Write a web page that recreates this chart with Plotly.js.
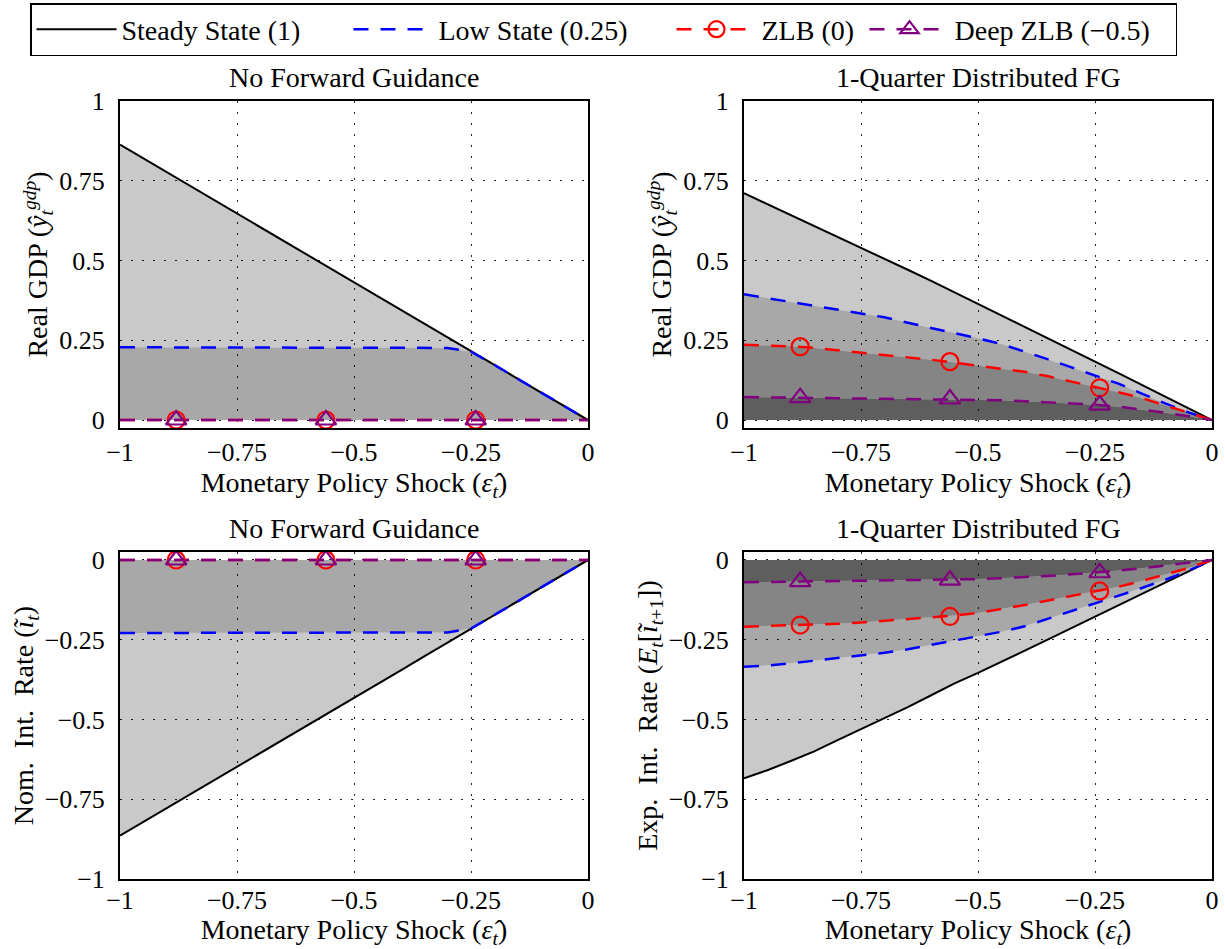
<!DOCTYPE html>
<html>
<head>
<meta charset="utf-8">
<script src="https://cdn.plot.ly/plotly-3.0.1.min.js"></script>
<style>html,body{margin:0;padding:0;background:#fff;}#chart{width:1225px;height:949px;}</style>
</head>
<body>
<div id="chart"></div>
<script>
// ---------- data ----------
const shock = [-1, -0.95, -0.9, -0.85, -0.8, -0.75, -0.7, -0.65, -0.6, -0.55, -0.5, -0.45, -0.4, -0.35, -0.3, -0.25, -0.2, -0.15, -0.1, -0.05, 0];
const markerShock = [-0.88, -0.56, -0.24];

// Real GDP, no forward guidance
const gdpNoFG_steady = [0.863, 0.820, 0.777, 0.734, 0.690, 0.647, 0.604, 0.561, 0.518, 0.475, 0.432, 0.388, 0.345, 0.302, 0.259, 0.216, 0.173, 0.129, 0.086, 0.043, 0];
const gdpNoFG_low    = [0.228, 0.228, 0.228, 0.228, 0.228, 0.228, 0.228, 0.228, 0.228, 0.228, 0.228, 0.228, 0.228, 0.228, 0.226, 0.214, 0.173, 0.129, 0.086, 0.043, 0];
const gdpNoFG_zlb    = [0, 0, 0, 0, 0, 0, 0, 0, 0, 0, 0, 0, 0, 0, 0, 0, 0, 0, 0, 0, 0];
const gdpNoFG_deep   = [0, 0, 0, 0, 0, 0, 0, 0, 0, 0, 0, 0, 0, 0, 0, 0, 0, 0, 0, 0, 0];
const gdpNoFG_zlbMarks  = [0, 0, 0];
const gdpNoFG_deepMarks = [0, 0, 0];

// Real GDP, 1-quarter distributed FG
const gdpFG_steady = [0.711, 0.677, 0.643, 0.609, 0.575, 0.541, 0.506, 0.471, 0.436, 0.400, 0.365, 0.329, 0.293, 0.256, 0.220, 0.184, 0.147, 0.110, 0.074, 0.037, 0];
const gdpFG_low    = [0.394, 0.382, 0.370, 0.358, 0.346, 0.336, 0.322, 0.305, 0.289, 0.273, 0.256, 0.238, 0.215, 0.190, 0.165, 0.140, 0.114, 0.083, 0.052, 0.024, 0];
const gdpFG_zlb    = [0.236, 0.234, 0.231, 0.226, 0.219, 0.212, 0.205, 0.197, 0.189, 0.180, 0.170, 0.161, 0.151, 0.137, 0.121, 0.104, 0.087, 0.069, 0.046, 0.024, 0];
const gdpFG_deep   = [0.072, 0.071, 0.070, 0.070, 0.069, 0.068, 0.067, 0.067, 0.066, 0.065, 0.064, 0.062, 0.059, 0.056, 0.052, 0.048, 0.042, 0.033, 0.023, 0.012, 0];
const gdpFG_zlbMarks  = [0.230, 0.183, 0.101];
const gdpFG_deepMarks = [0.070, 0.066, 0.047];

// Nominal interest rate, no forward guidance
const rateNoFG_steady = [-0.864, -0.821, -0.778, -0.734, -0.691, -0.648, -0.605, -0.562, -0.518, -0.475, -0.432, -0.389, -0.346, -0.302, -0.259, -0.216, -0.173, -0.130, -0.086, -0.043, 0];
const rateNoFG_low    = [-0.229, -0.229, -0.229, -0.229, -0.229, -0.229, -0.229, -0.229, -0.229, -0.229, -0.229, -0.229, -0.229, -0.229, -0.227, -0.215, -0.173, -0.130, -0.086, -0.043, 0];
const rateNoFG_zlb    = [0, 0, 0, 0, 0, 0, 0, 0, 0, 0, 0, 0, 0, 0, 0, 0, 0, 0, 0, 0, 0];
const rateNoFG_deep   = [0, 0, 0, 0, 0, 0, 0, 0, 0, 0, 0, 0, 0, 0, 0, 0, 0, 0, 0, 0, 0];
const rateNoFG_zlbMarks  = [0, 0, 0];
const rateNoFG_deepMarks = [0, 0, 0];

// Expected interest rate, 1-quarter distributed FG
const rateFG_steady = [-0.684, -0.659, -0.630, -0.600, -0.565, -0.530, -0.497, -0.461, -0.424, -0.387, -0.354, -0.320, -0.284, -0.249, -0.213, -0.178, -0.142, -0.107, -0.071, -0.036, 0];
const rateFG_low    = [-0.335, -0.331, -0.324, -0.316, -0.308, -0.301, -0.291, -0.280, -0.266, -0.251, -0.239, -0.225, -0.208, -0.184, -0.159, -0.136, -0.113, -0.088, -0.062, -0.034, 0];
const rateFG_zlb    = [-0.209, -0.207, -0.205, -0.203, -0.200, -0.196, -0.191, -0.185, -0.180, -0.174, -0.166, -0.154, -0.141, -0.127, -0.113, -0.099, -0.084, -0.066, -0.046, -0.025, 0];
const rateFG_deep   = [-0.070, -0.069, -0.068, -0.068, -0.067, -0.066, -0.065, -0.064, -0.063, -0.062, -0.060, -0.057, -0.054, -0.050, -0.045, -0.040, -0.033, -0.026, -0.018, -0.009, 0];
const rateFG_zlbMarks  = [-0.204, -0.177, -0.097];
const rateFG_deepMarks = [-0.068, -0.063, -0.040];

const seriesNames = ['Steady State (1)', 'Low State (0.25)', 'ZLB (0)', 'Deep ZLB (\u22120.5)'];
const panelTitles = ['No Forward Guidance', '1-Quarter Distributed FG', 'No Forward Guidance', '1-Quarter Distributed FG'];
const xTickVals = [-1, -0.75, -0.5, -0.25, 0];
const yTickValsTop = [0, 0.25, 0.5, 0.75, 1];
const yTickValsBottom = [-1, -0.75, -0.5, -0.25, 0];

// ---------- styling ----------
const FONT = '"Liberation Serif", "Times New Roman", serif';
const colSteady = '#000000', colLow = '#0000ff', colZlb = '#ff0000', colDeep = '#800080';
const fillLight = 'rgba(0,0,0,0.21)', fillMid = 'rgba(0,0,0,0.34)', fillDark = 'rgba(0,0,0,0.48)', fillDarkest = 'rgba(0,0,0,0.63)';
const DASH = '15px,12px';
const legendWidths = [222, 228, 98, 216];

const panels = [
  {xa: 'x',  ya: 'y',  s: gdpNoFG_steady,  l: gdpNoFG_low,  z: gdpNoFG_zlb,  d: gdpNoFG_deep,  zm: gdpNoFG_zlbMarks,  dm: gdpNoFG_deepMarks},
  {xa: 'x2', ya: 'y2', s: gdpFG_steady,    l: gdpFG_low,    z: gdpFG_zlb,    d: gdpFG_deep,    zm: gdpFG_zlbMarks,    dm: gdpFG_deepMarks},
  {xa: 'x3', ya: 'y3', s: rateNoFG_steady, l: rateNoFG_low, z: rateNoFG_zlb, d: rateNoFG_deep, zm: rateNoFG_zlbMarks, dm: rateNoFG_deepMarks},
  {xa: 'x4', ya: 'y4', s: rateFG_steady,   l: rateFG_low,   z: rateFG_zlb,   d: rateFG_deep,   zm: rateFG_zlbMarks,   dm: rateFG_deepMarks}
];

const traces = [];
panels.forEach(p => {
  const base = {x: shock, xaxis: p.xa, yaxis: p.ya, mode: 'lines', showlegend: false, hoverinfo: 'skip'};
  // shaded bands (fills only)
  traces.push(Object.assign({}, base, {y: p.d, fill: 'tozeroy', fillcolor: fillDarkest, line: {width: 0}}));
  traces.push(Object.assign({}, base, {y: p.z, fill: 'tonexty', fillcolor: fillDark, line: {width: 0}}));
  traces.push(Object.assign({}, base, {y: p.l, fill: 'tonexty', fillcolor: fillMid, line: {width: 0}}));
  traces.push(Object.assign({}, base, {y: p.s, fill: 'tonexty', fillcolor: fillLight, line: {width: 0}}));
  // curves
  traces.push(Object.assign({}, base, {y: p.s, line: {color: colSteady, width: 2}}));
  traces.push(Object.assign({}, base, {y: p.l, line: {color: colLow, width: 2.5, dash: DASH}}));
  traces.push(Object.assign({}, base, {y: p.z, line: {color: colZlb, width: 2.5, dash: DASH}}));
  traces.push(Object.assign({}, base, {y: p.d, line: {color: colDeep, width: 2.5, dash: DASH}}));
  // markers
  traces.push({x: markerShock, y: p.zm, xaxis: p.xa, yaxis: p.ya, mode: 'markers', showlegend: false, hoverinfo: 'skip',
    marker: {symbol: 'circle-open', size: 17, color: colZlb, line: {width: 2.2, color: colZlb}}});
  traces.push({x: markerShock, y: p.dm, xaxis: p.xa, yaxis: p.ya, mode: 'markers', showlegend: false, hoverinfo: 'skip',
    marker: {symbol: 'triangle-up-open', size: 18, color: colDeep, line: {width: 2.2, color: colDeep}}});
});

// legend-only entries
traces.push({x: [null], y: [null], name: seriesNames[0], legendwidth: legendWidths[0], mode: 'lines', line: {color: colSteady, width: 2}});
traces.push({x: [null], y: [null], name: seriesNames[1], legendwidth: legendWidths[1], mode: 'lines', line: {color: colLow, width: 2.5, dash: DASH}});
traces.push({x: [null], y: [null], name: seriesNames[2], legendwidth: legendWidths[2], mode: 'lines+markers', line: {color: colZlb, width: 2.5, dash: DASH},
  marker: {symbol: 'circle-open', size: 17, color: colZlb, line: {width: 2.2, color: colZlb}}});
traces.push({x: [null], y: [null], name: seriesNames[3], legendwidth: legendWidths[3], mode: 'lines+markers', line: {color: colDeep, width: 2.5, dash: DASH},
  marker: {symbol: 'triangle-up-open', size: 18, color: colDeep, line: {width: 2.2, color: colDeep}}});

const W = 1225, H = 949;
// pixel boxes of the four axes (left, right, top, bottom)
const boxes = [[120, 588, 101, 428], [744, 1212, 101, 428], [120, 588, 552, 879], [744, 1212, 552, 879]];

const xTitle = 'Monetary Policy Shock (<i>\u03b5\u0302</i><sub><i>t</i></sub>)';
const yTitles = [
  'Real GDP (<i>\u0177</i><sub><i>t</i></sub><sup><i>gdp</i></sup>)',
  'Real GDP (<i>\u0177</i><sub><i>t</i></sub><sup><i>gdp</i></sup>)',
  'Nom.  Int.  Rate (<i>\u0129</i><sub><i>t</i></sub>)',
  'Exp.  Int.  Rate (<i>E</i><sub><i>t</i></sub>[<i>\u0129</i><sub><i>t</i>+1</sub>])'
];

const layout = {
  width: W, height: H,
  margin: {l: 0, r: 0, t: 0, b: 0},
  paper_bgcolor: '#ffffff', plot_bgcolor: '#ffffff',
  font: {family: FONT, size: 27, color: '#000'},
  showlegend: true,
  legend: {
    orientation: 'h', x: 0.5 - 9 / W, xanchor: 'center', y: 1 - 3 / H, yanchor: 'top',
    bordercolor: '#000', borderwidth: 1.5, bgcolor: '#fff',
    font: {family: FONT, size: 28, color: '#000'}, itemwidth: 80, traceorder: 'normal'
  },
  annotations: [],
  hovermode: false
};

boxes.forEach((b, i) => {
  const n = i === 0 ? '' : String(i + 1);
  const top = i < 2;
  layout['xaxis' + n] = {
    domain: [b[0] / W, b[1] / W], anchor: 'y' + n, range: [-1, 0],
    tickvals: xTickVals, showline: true, mirror: true, linecolor: '#000', linewidth: 2,
    showgrid: true, gridcolor: '#222', gridwidth: 1, griddash: '2px,9px', zeroline: false,
    ticks: '', ticklabelstandoff: top ? 0 : -3, tickfont: {family: FONT, size: 26},
    title: {text: xTitle, font: {family: FONT, size: 28}, standoff: top ? 4 : 8}, automargin: false, fixedrange: true
  };
  layout['yaxis' + n] = {
    domain: [1 - b[3] / H, 1 - b[2] / H], anchor: 'x' + n,
    range: top ? [-0.025, 1] : [-1, 0.025], tickvals: top ? yTickValsTop : yTickValsBottom,
    showline: true, mirror: true, linecolor: '#000', linewidth: 2,
    showgrid: true, gridcolor: '#222', gridwidth: 1, griddash: '2px,9px', zeroline: false,
    ticks: '', ticklabelstandoff: 8, tickfont: {family: FONT, size: 26},
    title: {text: yTitles[i], font: {family: FONT, size: 28}, standoff: 3}, automargin: false, fixedrange: true
  };
  layout.annotations.push({
    text: panelTitles[i], xref: 'paper', yref: 'paper', showarrow: false,
    x: (b[0] + b[1]) / 2 / W, y: 1 - (b[2] - 24) / H, xanchor: 'center', yanchor: 'middle',
    font: {family: FONT, size: 28, color: '#000'}
  });
});

Plotly.newPlot('chart', traces, layout, {staticPlot: true, displayModeBar: false});
</script>
</body>
</html>
